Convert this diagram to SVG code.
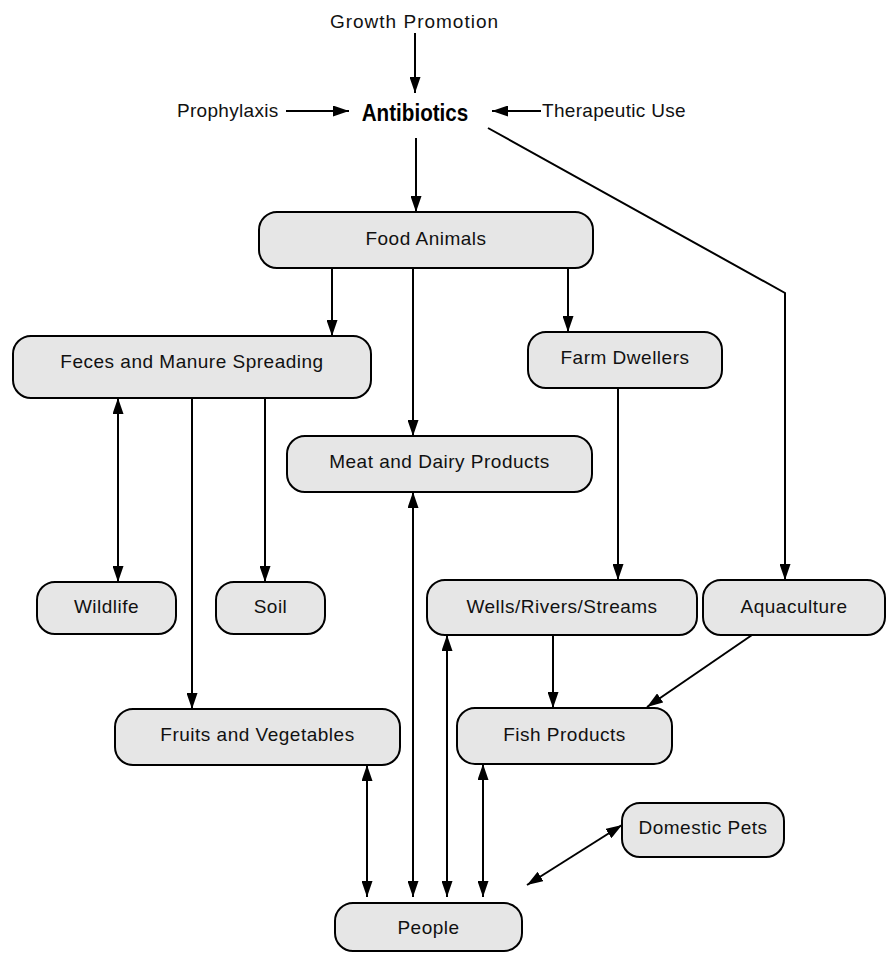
<svg xmlns="http://www.w3.org/2000/svg" width="892" height="953" viewBox="0 0 892 953">
<style>
  .box{fill:#e6e6e6;stroke:#000;stroke-width:2}
  .lbl{font-family:"Liberation Sans",Arial,sans-serif;font-size:19px;fill:#111;text-anchor:middle;letter-spacing:0.5px}
  .src{font-family:"Liberation Sans",Arial,sans-serif;font-size:19px;fill:#111;letter-spacing:0.3px}
  .ttl{font-family:"Liberation Sans",Arial,sans-serif;font-size:24px;font-weight:bold;fill:#000;text-anchor:middle}
  .c{fill:none;stroke:#000;stroke-width:2}
  .a{marker-end:url(#ah)}
  .b{marker-start:url(#ah);marker-end:url(#ah)}
</style>
<defs>
  <marker id="ah" viewBox="0 0 16 11" refX="16" refY="5.5" markerWidth="16" markerHeight="11" orient="auto-start-reverse" markerUnits="userSpaceOnUse">
    <path d="M0,0 L16,5.5 L0,11 z" fill="#000"/>
  </marker>
</defs>
<rect width="892" height="953" fill="#fff"/>

<g id="sources">
  <text class="src" x="414.5" y="28" text-anchor="middle" style="letter-spacing:1px">Growth Promotion</text>
  <text class="src" x="177" y="117">Prophylaxis</text>
  <text class="src" x="542" y="117">Therapeutic Use</text>
</g>
<g id="antibiotics">
  <text class="ttl" transform="translate(415,121) scale(0.86,1)">Antibiotics</text>
</g>

<g id="connectors">
  <path class="c a" d="M415,33 V93"/>
  <path class="c a" d="M286,111 H349"/>
  <path class="c a" d="M541,111 H492"/>
  <path class="c a" d="M416,138 V212"/>
  <path class="c a" d="M488,128 L785,293 V580"/>
  <path class="c a" d="M332,268 V336"/>
  <path class="c a" d="M413,268 V436"/>
  <path class="c a" d="M568,268 V332"/>
  <path class="c b" d="M118,398 V582"/>
  <path class="c a" d="M192,398 V709"/>
  <path class="c a" d="M265,398 V582"/>
  <path class="c a" d="M618,388 V580"/>
  <path class="c b" d="M413,492 V897"/>
  <path class="c b" d="M447,635 V897"/>
  <path class="c a" d="M553,635 V708"/>
  <path class="c a" d="M752,635 L647,707"/>
  <path class="c b" d="M367,765 V897"/>
  <path class="c b" d="M483,764 V897"/>
  <path class="c b" d="M622,825 L527,885"/>
</g>

<g id="food-animals"><rect class="box" x="259" y="212" width="334" height="56" rx="18"/><text class="lbl" x="426" y="245">Food Animals</text></g>
<g id="feces"><rect class="box" x="13" y="336" width="358" height="62" rx="18"/><text class="lbl" x="192" y="368">Feces and Manure Spreading</text></g>
<g id="farm-dwellers"><rect class="box" x="528" y="332" width="194" height="56" rx="18"/><text class="lbl" x="625" y="364">Farm Dwellers</text></g>
<g id="meat-dairy"><rect class="box" x="287" y="436" width="305" height="56" rx="18"/><text class="lbl" x="439.5" y="468">Meat and Dairy Products</text></g>
<g id="wildlife"><rect class="box" x="37" y="582" width="139" height="52" rx="18"/><text class="lbl" x="106.5" y="613">Wildlife</text></g>
<g id="soil"><rect class="box" x="216" y="582" width="109" height="52" rx="18"/><text class="lbl" x="270.5" y="613">Soil</text></g>
<g id="wells"><rect class="box" x="427" y="580" width="270" height="55" rx="18"/><text class="lbl" x="562" y="613">Wells/Rivers/Streams</text></g>
<g id="aquaculture"><rect class="box" x="703" y="580" width="182" height="55" rx="18"/><text class="lbl" x="794" y="613">Aquaculture</text></g>
<g id="fruits"><rect class="box" x="115" y="709" width="285" height="56" rx="18"/><text class="lbl" x="257.5" y="741">Fruits and Vegetables</text></g>
<g id="fish"><rect class="box" x="457" y="708" width="215" height="56" rx="18"/><text class="lbl" x="564.5" y="741">Fish Products</text></g>
<g id="pets"><rect class="box" x="622" y="803" width="162" height="54" rx="18"/><text class="lbl" x="703" y="834">Domestic Pets</text></g>
<g id="people"><rect class="box" x="335" y="903" width="187" height="48" rx="18"/><text class="lbl" x="428.5" y="934">People</text></g>
</svg>
